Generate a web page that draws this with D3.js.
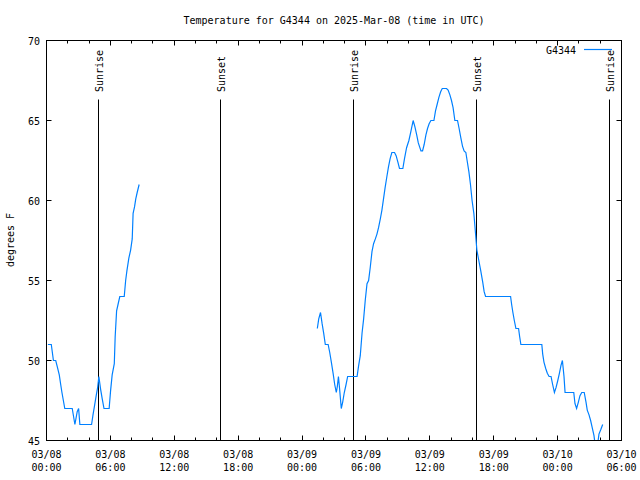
<!DOCTYPE html>
<html><head><meta charset="utf-8">
<script src="https://cdn.jsdelivr.net/npm/d3@7/dist/d3.min.js"></script>
<style>
body{margin:0;background:#fff}
text{font-family:"DejaVu Sans Mono","Liberation Mono",monospace;font-size:10px;fill:#000}
</style>
</head><body><svg id="c" width="640" height="480"></svg>
<script>
const title = "Temperature for G4344 on 2025-Mar-08 (time in UTC)";
const yLabel = "degrees F";
const seriesName = "G4344";
const yTicks = [45, 50, 55, 60, 65, 70];
const xDomain = ["08 00:00", "10 06:00"];
const xTicks = ["08 00:00","08 06:00","08 12:00","08 18:00","09 00:00","09 06:00","09 12:00","09 18:00","10 00:00","10 06:00"];
const sunTimes = ["08 04:52","08 16:22","09 04:52","09 16:22","10 04:52"];
const sunLabels = ["Sunrise","Sunset","Sunrise","Sunset","Sunrise"];

// observation times (day hh:mm, March 2025, UTC); null temp = gap in record
const times = [
"08 00:08","08 00:27","08 00:39","08 00:52","08 01:01","08 01:12","08 01:20","08 01:27","08 01:35","08 01:43",
"08 02:25","08 02:40","08 02:53","08 03:01","08 03:08","08 04:14","08 04:22","08 04:31","08 04:40","08 04:48",
"08 04:55","08 05:05","08 05:14","08 05:24","08 05:53","08 06:01","08 06:10","08 06:22","08 06:27","08 06:35",
"08 06:43","08 06:53","08 07:18","08 07:26","08 07:33","08 07:44","08 07:54","08 08:03","08 08:08","08 08:16",
"08 08:23","08 08:31","08 08:42",
"08 20:00",
"09 01:26","09 01:34","09 01:44","09 01:53","09 02:02","09 02:11","09 02:27","09 02:36","09 02:45","09 02:55",
"09 03:04","09 03:13","09 03:19","09 03:25","09 03:31","09 03:41","09 03:49","09 03:58","09 04:08","09 04:17",
"09 05:10","09 05:19","09 05:28","09 05:38","09 05:47","09 05:56","09 06:06","09 06:15","09 06:24","09 06:34",
"09 06:43","09 06:53","09 07:02","09 07:11","09 07:21","09 07:30","09 07:39","09 07:48","09 07:58","09 08:07",
"09 08:16","09 08:26","09 08:41","09 08:50","09 09:00","09 09:09","09 09:28","09 09:37","09 09:49","09 10:02",
"09 10:13","09 10:26","09 10:36","09 10:46","09 10:55","09 11:10","09 11:19","09 11:28","09 11:38","09 11:47",
"09 11:56","09 12:06","09 12:23","09 12:32","09 12:41","09 12:51","09 13:01","09 13:10","09 13:34","09 13:43",
"09 13:53","09 14:02","09 14:11","09 14:21","09 14:36","09 14:45","09 14:55","09 15:04","09 15:13","09 15:23",
"09 15:30","09 15:40","09 15:49","09 15:58","09 16:08","09 16:17","09 16:25","09 16:36","09 16:47","09 16:58",
"09 17:06","09 17:14","09 19:35","09 19:41","09 19:48","09 19:56","09 20:05","09 20:20","09 20:26","09 20:33",
"09 22:31","09 22:36","09 22:43","09 22:53","09 23:02","09 23:12","09 23:23","09 23:32","09 23:42","09 23:51",
"10 00:01","10 00:10","10 00:19","10 00:27","10 00:36","10 00:42","10 01:31","10 01:38","10 01:47","10 01:57",
"10 02:06","10 02:16","10 02:30","10 02:40","10 02:47","10 02:57","10 03:06","10 03:15","10 03:25","10 03:33",
"10 03:45","10 03:53","10 04:04","10 04:14"
];
const temps = [
51.0,51.0,50.0,50.0,49.6,49.1,48.5,48.0,47.5,47.0,
47.0,46.0,46.8,47.0,46.0,46.0,46.6,47.2,47.8,48.3,
49.0,48.2,47.6,47.0,47.0,48.1,49.1,49.8,51.5,53.1,
53.5,54.0,54.0,55.0,55.6,56.4,56.9,57.6,59.2,59.6,
60.1,60.5,61.0,
null,
52.0,52.6,53.0,52.3,51.7,51.0,51.0,50.5,49.9,49.2,
48.5,48.0,48.4,49.0,48.3,47.0,47.4,48.0,48.5,49.0,
49.0,49.7,50.3,51.7,52.6,53.75,54.8,55.0,55.8,56.8,
57.3,57.6,57.9,58.3,58.85,59.4,60.1,60.8,61.5,62.1,
62.6,63.0,63.0,62.8,62.4,62.0,62.0,62.6,63.3,63.75,
64.3,65.0,64.6,64.1,63.6,63.1,63.1,63.5,64.1,64.5,
64.8,65.0,65.0,65.6,66.0,66.45,66.8,67.0,67.0,66.9,
66.6,66.25,65.8,65.0,65.0,64.5,63.9,63.4,63.1,63.0,
62.5,61.8,61.0,60.0,59.2,58.0,56.9,56.25,55.6,54.9,
54.3,54.0,54.0,53.5,53.0,52.5,52.0,52.0,51.5,51.0,
51.0,50.4,49.9,49.5,49.2,49.0,49.0,48.5,48.0,48.3,
48.75,49.2,49.7,50.0,49.0,48.0,48.0,47.3,47.0,47.4,
47.8,48.0,48.0,47.4,46.9,46.6,46.25,45.8,45.3,44.6,
44.7,45.4,45.7,46.0
];

const parse = s => d3.utcParse("%Y-%m-%d %H:%M")("2025-03-" + s);
const data = times.map((t, i) => ({t: parse(t), v: temps[i]}));

const L = 46.5, R = 621.5, T = 40.5, B = 440.5;
const svg = d3.select("#c");
const x = d3.scaleUtc().domain(xDomain.map(parse)).range([L, R]);
const y = d3.scaleLinear().domain([45, 70]).range([B, T]);

// title
svg.append("text").attr("x", (L + R) / 2).attr("y", 24).attr("text-anchor", "middle").text(title);
// y label
svg.append("text").attr("transform", "translate(14,240) rotate(-90)").attr("text-anchor", "middle").text(yLabel);

const g = svg.append("g");
// y ticks (left + mirrored right)
yTicks.forEach(v => {
  const yy = Math.round(y(v) - 0.5) + 0.5;
  g.append("line").attr("x1", L).attr("x2", L + 5).attr("y1", yy).attr("y2", yy).attr("stroke", "#000");
  g.append("line").attr("x1", R).attr("x2", R - 5).attr("y1", yy).attr("y2", yy).attr("stroke", "#000");
  svg.append("text").attr("x", 40).attr("y", y(v) + 4).attr("text-anchor", "end").text(v);
});
// x minor ticks every 2 h, major every 6 h
const minor = d3.utcHour.every(2).range(x.domain()[0], d3.utcMinute.offset(x.domain()[1], 1));
minor.forEach(d => {
  const isMajor = d.getUTCHours() % 6 === 0;
  const len = isMajor ? 5 : 3;
  const xx = Math.round(x(d) - 0.5) + 0.5;
  g.append("line").attr("x1", xx).attr("x2", xx).attr("y1", B).attr("y2", B - len).attr("stroke", "#000");
  g.append("line").attr("x1", xx).attr("x2", xx).attr("y1", T).attr("y2", T + len).attr("stroke", "#000");
});
const fmtD = d3.utcFormat("%m/%d"), fmtH = d3.utcFormat("%H:%M");
xTicks.map(parse).forEach(d => {
  const t = svg.append("text").attr("text-anchor", "middle");
  t.append("tspan").attr("x", x(d)).attr("y", 458).text(fmtD(d));
  t.append("tspan").attr("x", x(d)).attr("y", 471).text(fmtH(d));
});

// sunrise / sunset markers
sunTimes.forEach((s, i) => {
  const xx = Math.round(x(parse(s)) - 0.5) + 0.5;
  svg.append("line").attr("x1", xx).attr("x2", xx).attr("y1", 99.5).attr("y2", B).attr("stroke", "#000");
  svg.append("text").attr("transform", `translate(${xx + 4},92) rotate(-90)`).attr("text-anchor", "start").text(sunLabels[i]);
});

// series
svg.append("clipPath").attr("id", "clip").append("rect").attr("x", L).attr("y", T).attr("width", R - L).attr("height", B - T);
svg.append("path").datum(data).attr("clip-path", "url(#clip)")
  .attr("fill", "none").attr("stroke", "#0080ff").attr("stroke-width", 1.2)
  .attr("d", d3.line().defined(d => d.v != null).x(d => x(d.t)).y(d => y(d.v)));

// border
svg.append("rect").attr("x", L).attr("y", T).attr("width", R - L).attr("height", B - T)
  .attr("fill", "none").attr("stroke", "#000");

// legend
svg.append("text").attr("x", 576).attr("y", 54).attr("text-anchor", "end").text(seriesName);
svg.append("line").attr("x1", 584).attr("x2", 612).attr("y1", 49.5).attr("y2", 49.5).attr("stroke", "#0080ff").attr("stroke-width", 1.2);
</script>
</body></html>
